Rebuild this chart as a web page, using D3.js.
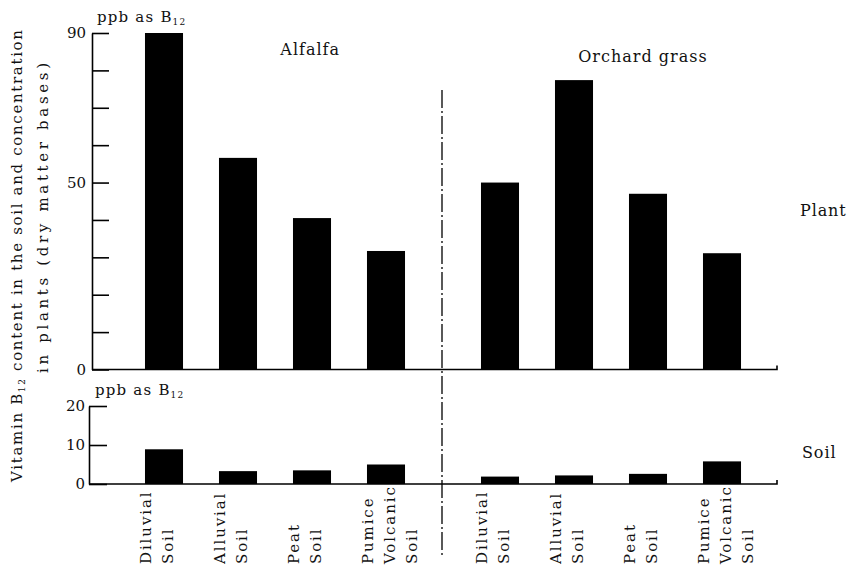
<!DOCTYPE html>
<html>
<head>
<meta charset="utf-8">
<script src="https://cdn.jsdelivr.net/npm/d3@7"></script>
<style>
  html, body { margin: 0; padding: 0; background: #fff; }
  svg { display: block; }
</style>
</head>
<body>
<svg id="chart" width="850" height="570"></svg>
<script>
// ---- data ----
const groups = ["Alfalfa", "Orchard grass"];
const soilTypes = ["Diluvial", "Alluvial", "Peat", "Pumice Volcanic"];
const soilLabelLines = [["Diluvial", "Soil"], ["Alluvial", "Soil"], ["Peat", "Soil"], ["Pumice", "Volcanic", "Soil"]];
const plantAlfalfa = [90, 56.6, 40.5, 31.7];
const plantOrchard = [50, 77.4, 47.0, 31.1];
const soilAlfalfa = [8.9, 3.3, 3.5, 5.0];
const soilOrchard = [1.9, 2.2, 2.6, 5.8];
const plantTicks = [0, 10, 20, 30, 40, 50, 60, 70, 80, 90];
const plantTickLabels = ["0", "", "", "", "", "50", "", "", "", "90"];
const soilTicks = [0, 10, 20];
const soilTickLabels = ["0", "10", "20"];
const unitLabel = ["ppb as B", "12"];
const yTitleLine1 = ["Vitamin B", "12", " content in the soil and concentration"];
const yTitleLine2 = "in plants (dry matter bases)";
const panelLabels = ["Plant", "Soil"];

const plantValues = { "Alfalfa": plantAlfalfa, "Orchard grass": plantOrchard };
const soilValues = { "Alfalfa": soilAlfalfa, "Orchard grass": soilOrchard };

const FONT = "'DejaVu Serif', 'Liberation Serif', serif";
const INK = "#111";

// ---- scales ----
const svg = d3.select("#chart");
const outer = d3.scaleBand().domain(groups).range([127, 759]).paddingInner(40 / 336).paddingOuter(0);
const inner = d3.scaleBand().domain(soilTypes).range([0, outer.bandwidth()]).paddingInner(0.486).paddingOuter(0.243);
const yPlant = d3.scaleLinear().domain([0, 90]).range([369.5, 33]);
const ySoil = d3.scaleLinear().domain([0, 20]).range([484, 406]);

const plantAxisX = 92, soilAxisX = 89;
const lineEnd = outer.range()[1] + 18;

function txt(sel, size, spacing) {
  return sel.style("font-family", FONT).attr("font-family", FONT)
    .attr("font-size", size).attr("fill", INK)
    .attr("letter-spacing", spacing || 0);
}

// ---- bars ----
const rows = [];
groups.forEach(g => soilTypes.forEach((s, i) => rows.push({ g, s, i, plant: plantValues[g][i], soil: soilValues[g][i] })));

svg.append("g").selectAll("rect").data(rows).join("rect")
  .attr("x", d => outer(d.g) + inner(d.s))
  .attr("width", inner.bandwidth())
  .attr("y", d => yPlant(d.plant))
  .attr("height", d => yPlant(0) - yPlant(d.plant))
  .attr("fill", "#000");

svg.append("g").selectAll("rect").data(rows).join("rect")
  .attr("x", d => outer(d.g) + inner(d.s))
  .attr("width", inner.bandwidth())
  .attr("y", d => ySoil(d.soil))
  .attr("height", d => ySoil(0) - ySoil(d.soil))
  .attr("fill", "#000");

// ---- axes ----
const plantAxis = d3.axisLeft(yPlant).tickValues(plantTicks)
  .tickFormat((d, i) => plantTickLabels[i]).tickSizeInner(-17).tickSizeOuter(0).tickPadding(6);
const gp = svg.append("g").attr("transform", `translate(${plantAxisX},0)`).call(plantAxis);

const soilAxis = d3.axisLeft(ySoil).tickValues(soilTicks)
  .tickFormat((d, i) => soilTickLabels[i]).tickSizeInner(-18).tickSizeOuter(0).tickPadding(4);
const gs = svg.append("g").attr("transform", `translate(${soilAxisX},0)`).call(soilAxis);

[gp, gs].forEach(g => {
  g.attr("font-family", FONT);
  g.selectAll("path.domain").attr("stroke", "#000").attr("stroke-width", 1.6);
  g.selectAll(".tick line").attr("stroke", "#000").attr("stroke-width", 1.6);
  txt(g.selectAll(".tick text"), 15, 0);
});

// baselines with small end ticks
function baseline(y0, x0) {
  svg.append("path")
    .attr("d", `M${x0},${y0}H${lineEnd}V${y0 - 4}`)
    .attr("fill", "none").attr("stroke", "#000").attr("stroke-width", 1.6);
}
baseline(yPlant(0), plantAxisX);
baseline(ySoil(0), soilAxisX);

// divider
const divX = (outer(groups[0]) + outer.bandwidth() + outer(groups[1])) / 2 - 1;
svg.append("line")
  .attr("x1", divX).attr("x2", divX).attr("y1", 90).attr("y2", 557)
  .attr("stroke", "#000").attr("stroke-width", 1.3)
  .attr("stroke-dasharray", "18,3,2,3");

// ---- texts ----
function unitText(x, y) {
  const t = txt(svg.append("text").attr("x", x).attr("y", y), 15, 1.2);
  t.append("tspan").text(unitLabel[0]);
  t.append("tspan").attr("font-size", 9).attr("dy", 3).text(unitLabel[1]);
}
unitText(97, 22);
unitText(95, 395);

// group titles
groups.forEach((g, i) => {
  txt(svg.append("text"), 16, 1.0)
    .attr("x", outer(g) + outer.bandwidth() * (i === 0 ? 0.619 : 0.608))
    .attr("y", i === 0 ? 55 : 62)
    .attr("text-anchor", "middle")
    .text(g);
});

// panel labels
txt(svg.append("text"), 16, 0.9).attr("x", 800).attr("y", 216).text(panelLabels[0]);
txt(svg.append("text"), 16, 0.9).attr("x", 802).attr("y", 458).text(panelLabels[1]);

// y title
const yt1 = txt(svg.append("text"), 15, 0).attr("transform", "translate(22,482) rotate(-90)")
  .attr("textLength", 452).attr("lengthAdjust", "spacing");
yt1.append("tspan").text(yTitleLine1[0]);
yt1.append("tspan").attr("font-size", 9).attr("dy", 3).text(yTitleLine1[1]);
yt1.append("tspan").attr("dy", -3).text(yTitleLine1[2]);

txt(svg.append("text"), 15, 0).attr("transform", "translate(48,373) rotate(-90)")
  .attr("textLength", 310).attr("lengthAdjust", "spacing")
  .text(yTitleLine2);

// category labels (rotated)
const labelRows = [];
groups.forEach(g => soilTypes.forEach((s, i) => labelRows.push({ g, s, lines: soilLabelLines[i] })));
const lg = svg.append("g");
labelRows.forEach(d => {
  const cx = outer(d.g) + inner(d.s) + inner.bandwidth() / 2;
  d.lines.forEach((ln, j) => {
    const bx = cx - 13 + 22 * j;
    txt(lg.append("text"), 15, 1.9)
      .attr("transform", `translate(${bx},564) rotate(-90)`)
      .text(ln);
  });
});
</script>
</body>
</html>
